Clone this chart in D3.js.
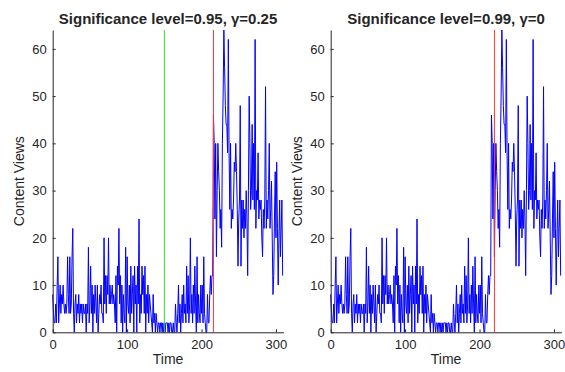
<!DOCTYPE html>
<html lang="en">
<head>
    <script src="https://cdn.jsdelivr.net/npm/d3@7"></script>
    <style>
        body { margin: 0; background: #fff; }
        text { font-family: "Liberation Sans", Arial, Helvetica, sans-serif; fill: #262626; }
    </style>
</head>
<body>

<script>
    var w = 565;
    var h = 372;

    // content views per time step, t = 0..309
    var views = [
        8, 4, 2, 2, 6, 2, 10, 16, 2, 6,
        10, 4, 8, 6, 10, 6, 4, 6, 4, 6,
        16, 8, 4, 16, 4, 6, 16, 22, 4, 0,
        6, 8, 2, 6, 4, 8, 2, 6, 4, 6,
        2, 6, 4, 4, 6, 0, 6, 4, 18, 2,
        6, 14, 4, 10, 0, 8, 4, 10, 6, 2,
        10, 0, 4, 8, 6, 10, 4, 4, 2, 20,
        6, 12, 4, 12, 8, 20, 6, 10, 6, 8,
        10, 6, 8, 6, 2, 12, 0, 14, 10, 22,
        6, 12, 2, 10, 0, 8, 4, 2, 18, 0,
        16, 6, 4, 10, 2, 14, 4, 8, 12, 0,
        14, 6, 10, 0, 14, 6, 24, 2, 8, 4,
        14, 8, 12, 4, 14, 0, 8, 4, 10, 2,
        8, 6, 4, 2, 0, 8, 2, 4, 0, 4,
        2, 0, 2, 2, 0, 2, 2, 0, 2, 0,
        2, 0, 2, 2, 2, 0, 2, 0, 2, 2,
        0, 0, 2, 0, 0, 6, 2, 0, 4, 10,
        2, 6, 0, 4, 8, 2, 10, 4, 6, 2,
        14, 4, 12, 2, 6, 20, 4, 8, 2, 10,
        4, 14, 6, 0, 16, 2, 8, 4, 2, 10,
        4, 10, 2, 16, 4, 2, 0, 0, 8, 2,
        2, 8, 12, 8, 12, 12, 46, 40, 24, 40,
        16, 30, 40, 34, 30, 22, 26, 18, 40, 50,
        64, 56, 48, 44, 44, 38, 62, 38, 26, 40,
        22, 26, 24, 28, 36, 34, 40, 34, 26, 14,
        24, 28, 48, 14, 28, 22, 28, 20, 26, 22,
        30, 24, 12, 30, 50, 40, 26, 30, 44, 28,
        40, 26, 62, 22, 30, 28, 38, 24, 28, 26,
        28, 20, 16, 26, 22, 28, 52, 22, 28, 24,
        30, 40, 22, 26, 32, 20, 8, 12, 24, 34,
        20, 36, 22, 10, 20, 28, 16, 22, 28, 12
    ];

    var titles = ['Significance level=0.95, \u03b3=0.25', 'Significance level=0.99, \u03b3=0'];
    var panelLeft = [52.7, 330.7];
    // detected change points: green (first alarm) and red (change) markers
    var greenLines = [[150], []];
    var redLines = [[216], [220]];
    var xTicks = [0, 100, 200, 300];
    var yTicks = [0, 10, 20, 30, 40, 50, 60];

    var plotTop = 30, plotBottom = 332.3, plotW = 230.7;

    var svg = d3.select('body').append('svg').attr('width', w).attr('height', h);

    titles.forEach(function(title, p) {
        var x = d3.scaleLinear().domain([0, 310]).range([panelLeft[p], panelLeft[p] + plotW]);
        var y = d3.scaleLinear().domain([0, 64]).range([plotBottom, plotTop]);

        var g = svg.append('g');

        var lineFun = d3.line()
            .x(function(d, i) { return x(i); })
            .y(function(d) { return y(d); });

        g.append('path')
            .attr('d', lineFun(views))
            .attr('fill', 'none')
            .attr('stroke', '#0000ff')
            .attr('stroke-width', 1)
            .attr('stroke-linejoin', 'round');

        g.selectAll('line.green')
            .data(greenLines[p]).enter().append('line')
            .attr('x1', function(d) { return x(d); })
            .attr('x2', function(d) { return x(d); })
            .attr('y1', y(0)).attr('y2', y(64))
            .attr('stroke', '#33dd33').attr('stroke-width', 1);

        g.selectAll('line.red')
            .data(redLines[p]).enter().append('line')
            .attr('x1', function(d) { return x(d); })
            .attr('x2', function(d) { return x(d); })
            .attr('y1', y(0)).attr('y2', y(64))
            .attr('stroke', '#ff3333').attr('stroke-width', 1);

        // axes, ticks pointing inward like matlab
        var xAxis = g.append('g')
            .attr('transform', 'translate(0,' + plotBottom + ')')
            .call(d3.axisBottom(x).tickValues(xTicks).tickSizeInner(-3).tickSizeOuter(0).tickPadding(7));
        var yAxis = g.append('g')
            .attr('transform', 'translate(' + panelLeft[p] + ',0)')
            .call(d3.axisLeft(y).tickValues(yTicks).tickSizeInner(-3).tickSizeOuter(0).tickPadding(6));

        [xAxis, yAxis].forEach(function(a) {
            a.select('.domain').attr('stroke', '#262626');
            a.selectAll('.tick line').attr('stroke', '#262626');
            a.selectAll('.tick text').attr('font-size', '13px').attr('fill', '#262626')
                .style('font-family', '"Liberation Sans", Arial, sans-serif');
        });

        g.append('text')
            .text(title)
            .attr('x', panelLeft[p] + plotW / 2)
            .attr('y', 23.5)
            .attr('text-anchor', 'middle')
            .attr('font-size', '15px')
            .attr('font-weight', 'bold')
            .attr('fill', '#000');

        g.append('text')
            .text('Time')
            .attr('x', panelLeft[p] + plotW / 2)
            .attr('y', 364)
            .attr('text-anchor', 'middle')
            .attr('font-size', '14px');

        g.append('text')
            .text('Content Views')
            .attr('transform', 'translate(' + (panelLeft[p] - 29) + ',' + ((plotTop + plotBottom) / 2) + ') rotate(-90)')
            .attr('text-anchor', 'middle')
            .attr('font-size', '14px');
    });
</script>
</body>
</html>
